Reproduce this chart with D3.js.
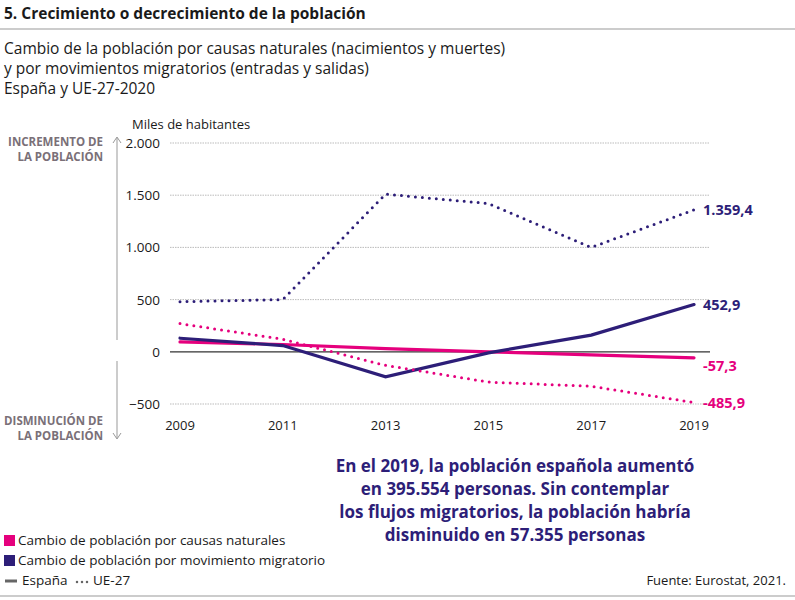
<!DOCTYPE html>
<html><head><meta charset="utf-8">
<script src="https://cdn.jsdelivr.net/npm/d3@7"></script>
<style>
body{margin:0;background:#fff;font-family:"Open Sans",sans-serif;}
</style></head><body>
<script>
var years = [2009, 2011, 2013, 2015, 2017, 2019];
var esNatural = [95, 70, 30, 0, -30, -57.3];
var esMigra = [130, 60, -240, -10, 160, 452.9];
var ueNatural = [270, 120, -130, -290, -330, -485.9];
var ueMigra = [480, 500, 1510, 1420, 1000, 1359.4];
var yTicks = [-500, 0, 500, 1000, 1500, 2000];
var endLabels = ["-57,3", "452,9", "-485,9", "1.359,4"];

var pink = "#e5007d", navy = "#2d1e78";
var svg = d3.select("body").append("svg").attr("width", 795).attr("height", 600);

svg.append("text").attr("x", 4).attr("y", 19).attr("font-size", 15.5).attr("font-weight", "bold").attr("fill", "#1a1a1a")
  .text("5. Crecimiento o decrecimiento de la población");
svg.append("line").attr("x1", 0).attr("x2", 795).attr("y1", 29).attr("y2", 29).attr("stroke", "#999");
["Cambio de la población por causas naturales (nacimientos y muertes)",
 "y por movimientos migratorios (entradas y salidas)",
 "España y UE-27-2020"].forEach(function(t, i) {
  svg.append("text").attr("x", 4).attr("y", 54 + i * 20).attr("font-size", 15.5).attr("fill", "#1a1a1a").text(t);
});

var x = d3.scaleLinear().domain([2009, 2019]).range([180, 694]);
var y = d3.scaleLinear().domain([-500, 2000]).range([404, 143]);

svg.append("text").attr("x", 132).attr("y", 129).attr("font-size", 13).attr("fill", "#1a1a1a").text("Miles de habitantes");

yTicks.forEach(function(t) {
  svg.append("line").attr("x1", 170).attr("x2", 710).attr("y1", y(t)).attr("y2", y(t))
    .attr("stroke", t === 0 ? "#333" : "#aaa").attr("stroke-width", t === 0 ? 1.2 : 0.8)
    .attr("stroke-dasharray", t === 0 ? null : "1.5,1");
  svg.append("text").attr("x", 160).attr("y", y(t) + 5).attr("text-anchor", "end").attr("font-size", 13.5)
    .attr("fill", "#1a1a1a").text(d3.format(",")(t).replace(/,/g, "."));
});
years.forEach(function(yr) {
  svg.append("text").attr("x", x(yr)).attr("y", 430).attr("text-anchor", "middle").attr("font-size", 13)
    .attr("fill", "#1a1a1a").text(yr);
});

// side arrows
var ag = svg.append("g").attr("stroke", "#999").attr("fill", "none").attr("stroke-width", 1);
ag.append("line").attr("x1", 117).attr("x2", 117).attr("y1", 138).attr("y2", 340);
ag.append("path").attr("d", "M113,143 L117,137 L121,143");
ag.append("line").attr("x1", 117).attr("x2", 117).attr("y1", 361).attr("y2", 438);
ag.append("path").attr("d", "M113,433 L117,439 L121,433");
var sideTxt = [["INCREMENTO DE", 146], ["LA POBLACIÓN", 161], ["DISMINUCIÓN DE", 425], ["LA POBLACIÓN", 440]];
sideTxt.forEach(function(s) {
  svg.append("text").attr("x", 103).attr("y", s[1]).attr("text-anchor", "end").attr("font-size", 11.5)
    .attr("font-weight", "bold").attr("fill", "#7a7078").text(s[0]);
});

var line = d3.line().x(function(d, i) { return x(years[i]); }).y(function(d) { return y(d); });
var series = [
  {v: esNatural, c: pink, dot: false},
  {v: esMigra, c: navy, dot: false},
  {v: ueNatural, c: pink, dot: true},
  {v: ueMigra, c: navy, dot: true}
];
series.forEach(function(s) {
  svg.append("path").datum(s.v).attr("d", line).attr("fill", "none").attr("stroke", s.c)
    .attr("stroke-width", s.dot ? 3 : 3.2).attr("stroke-linecap", "round")
    .attr("stroke-dasharray", s.dot ? "0,7" : null);
});
var lblOff = [8, 0, 0, 0];
series.forEach(function(s, i) {
  var v = s.v[s.v.length - 1];
  svg.append("text").attr("x", 703).attr("y", y(v) + 5 + lblOff[i]).attr("font-size", 14.5).attr("font-weight", "bold")
    .attr("fill", s.c).text(endLabels[i]);
});

["En el 2019, la población española aumentó", "en 395.554 personas. Sin contemplar",
 "los flujos migratorios, la población habría", "disminuido en 57.355 personas"].forEach(function(t, i) {
  svg.append("text").attr("x", 515).attr("y", 472 + i * 23).attr("text-anchor", "middle").attr("font-size", 17)
    .attr("font-weight", "bold").attr("fill", navy).text(t);
});

svg.append("rect").attr("x", 4).attr("y", 535).attr("width", 11).attr("height", 11).attr("fill", pink);
svg.append("text").attr("x", 18).attr("y", 545).attr("font-size", 13.5).attr("fill", "#1a1a1a").text("Cambio de población por causas naturales");
svg.append("rect").attr("x", 4).attr("y", 555).attr("width", 11).attr("height", 11).attr("fill", navy);
svg.append("text").attr("x", 18).attr("y", 565).attr("font-size", 13.5).attr("fill", "#1a1a1a").text("Cambio de población por movimiento migratorio");
svg.append("line").attr("x1", 5).attr("x2", 17).attr("y1", 581).attr("y2", 581).attr("stroke", "#666").attr("stroke-width", 3);
svg.append("text").attr("x", 22).attr("y", 585).attr("font-size", 13.5).attr("fill", "#1a1a1a").text("España");
svg.append("line").attr("x1", 77).attr("x2", 90).attr("y1", 582).attr("y2", 582).attr("stroke", "#666").attr("stroke-width", 2.5)
  .attr("stroke-linecap", "round").attr("stroke-dasharray", "0,5");
svg.append("text").attr("x", 93).attr("y", 585).attr("font-size", 13.5).attr("fill", "#1a1a1a").text("UE-27");
svg.append("text").attr("x", 786).attr("y", 585).attr("text-anchor", "end").attr("font-size", 13).attr("fill", "#1a1a1a").text("Fuente: Eurostat, 2021.");
svg.append("line").attr("x1", 0).attr("x2", 795).attr("y1", 596).attr("y2", 596).attr("stroke", "#999");
</script>
</body></html>
